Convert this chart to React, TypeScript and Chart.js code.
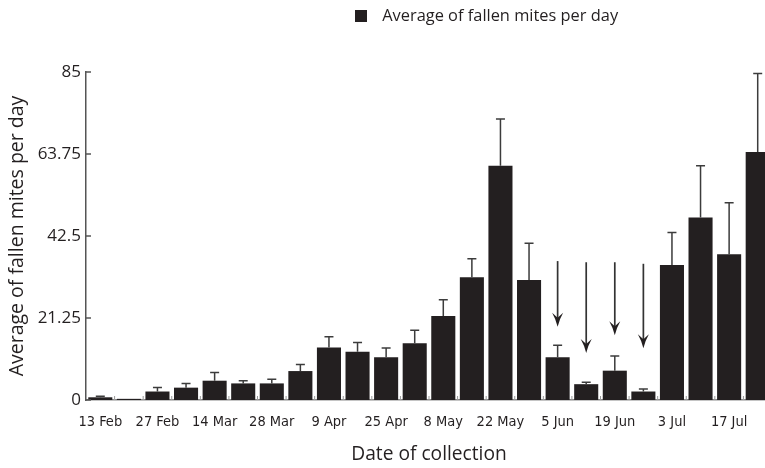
import React, { useEffect, useRef } from 'react';
import { Chart, registerables } from 'chart.js';

Chart.register(...registerables);

// Collection dates (every other collection is labelled on the axis)
const categories = [
  '13 Feb', '', '27 Feb', '', '14 Mar', '', '28 Mar', '', '9 Apr', '', '25 Apr', '',
  '8 May', '', '22 May', '', '5 Jun', '', '19 Jun', '', '3 Jul', '', '17 Jul', '',
];

// Average of fallen mites per day
const meanValues = [
  0.7, 0.3, 2.2, 3.2, 5.0, 4.3, 4.3, 7.5, 13.6, 12.5, 11.1, 14.7,
  21.8, 31.8, 60.7, 31.1, 11.1, 4.1, 7.6, 2.2, 35.0, 47.3, 37.8, 64.3,
];

// Upper error (standard error) above each bar
const errValues = [
  0.3, 0, 1.05, 1.1, 2.1, 0.7, 1.1, 1.7, 2.8, 2.4, 2.4, 3.4,
  4.2, 4.8, 12.1, 9.5, 3.1, 0.5, 3.8, 0.65, 8.4, 13.4, 13.3, 20.3,
];

// Y axis ticks
const yTicks = [0, 21.25, 42.5, 63.75, 85];

// Treatment arrows: bar index, start value, tip value
const arrowBars = [16, 17, 18, 19];
const arrowFrom = [36.0, 35.7, 35.7, 35.3];
const arrowTo = [19.0, 12.2, 16.8, 13.4];

const seriesLabel = 'Average of fallen mites per day';
const INK = '#231f20';

export default function App() {
  const canvasRef = useRef<HTMLCanvasElement | null>(null);

  useEffect(() => {
    if (!canvasRef.current) return;

    const legendSwatch = document.createElement('canvas');
    legendSwatch.width = 19;
    legendSwatch.height = 12;
    const sctx = legendSwatch.getContext('2d');
    if (sctx) {
      sctx.fillStyle = INK;
      sctx.fillRect(0, 0, 12, 12);
    }

    const overlay = {
      id: 'overlay',
      afterInit(chart: any) {
        const legend = chart.legend;
        if (legend && !legend.__patched) {
          const origFit = legend.fit.bind(legend);
          legend.fit = () => {
            origFit();
            legend.height = 64;
          };
          legend.__patched = true;
        }
      },
      afterLayout(chart: any) {
        if (chart.legend) chart.legend.left = 347;
      },
      afterDatasetsDraw(chart: any) {
        const { ctx, chartArea } = chart;
        const x = chart.scales.x;
        const y = chart.scales.y;
        ctx.save();

        // error bars
        ctx.strokeStyle = '#3c3c3c';
        ctx.lineWidth = 1.5;
        meanValues.forEach((v, i) => {
          const e = errValues[i];
          if (!e) return;
          const px = x.getPixelForValue(i);
          const y0 = y.getPixelForValue(v);
          const y1 = y.getPixelForValue(v + e);
          ctx.beginPath();
          ctx.moveTo(px, y0);
          ctx.lineTo(px, y1);
          ctx.moveTo(px - 4.5, y1);
          ctx.lineTo(px + 4.5, y1);
          ctx.stroke();
        });

        // inward y ticks
        ctx.strokeStyle = '#555';
        ctx.lineWidth = 1.5;
        y.ticks.forEach((t: any) => {
          const py = y.getPixelForValue(t.value);
          ctx.beginPath();
          ctx.moveTo(chartArea.left, py);
          ctx.lineTo(chartArea.left + 5, py);
          ctx.stroke();
        });

        // small x ticks between bars
        ctx.strokeStyle = '#999';
        ctx.lineWidth = 1;
        for (let i = 1; i < categories.length; i++) {
          const bx = (x.getPixelForValue(i - 1) + x.getPixelForValue(i)) / 2;
          ctx.beginPath();
          ctx.moveTo(bx, chartArea.bottom);
          ctx.lineTo(bx, chartArea.bottom - 4);
          ctx.stroke();
        }

        // arrows
        arrowBars.forEach((b, k) => {
          const px = x.getPixelForValue(b);
          const yTop = y.getPixelForValue(arrowFrom[k]);
          const yTip = y.getPixelForValue(arrowTo[k]);
          ctx.strokeStyle = '#333';
          ctx.lineWidth = 1.7;
          ctx.beginPath();
          ctx.moveTo(px, yTop);
          ctx.lineTo(px, yTip - 8);
          ctx.stroke();
          ctx.fillStyle = INK;
          ctx.beginPath();
          ctx.moveTo(px, yTip);
          ctx.quadraticCurveTo(px - 2, yTip - 8, px - 5.5, yTip - 14);
          ctx.lineTo(px, yTip - 9);
          ctx.lineTo(px + 5.5, yTip - 14);
          ctx.quadraticCurveTo(px + 2, yTip - 8, px, yTip);
          ctx.closePath();
          ctx.fill();
        });

        ctx.restore();
      },
    };

    const chart = new Chart(canvasRef.current, {
      type: 'bar',
      data: {
        labels: categories,
        datasets: [
          {
            label: seriesLabel,
            data: meanValues,
            backgroundColor: INK,
            borderWidth: 0,
            barPercentage: 0.842,
            categoryPercentage: 1,
          },
        ],
      },
      options: {
        animation: false,
        responsive: true,
        maintainAspectRatio: false,
        layout: { padding: 0 },
        plugins: {
          tooltip: { enabled: false },
          legend: {
            display: true,
            position: 'top',
            align: 'start',
            labels: {
              usePointStyle: true,
              pointStyle: legendSwatch as any,
              pointStyleWidth: 19,
              boxHeight: 12,
              padding: 0,
              color: INK,
              font: { family: "'Open Sans', sans-serif", size: 16.4 },
            },
          },
        },
        scales: {
          x: {
            type: 'category',
            offset: true,
            grid: { display: false, drawTicks: false },
            border: { display: true, color: '#8a8a8a', width: 1.5 },
            ticks: {
              autoSkip: false,
              maxRotation: 0,
              minRotation: 0,
              padding: 14,
              color: INK,
              font: { family: "'DejaVu Sans Condensed', sans-serif", size: 14.5 },
            },
            title: {
              display: true,
              text: 'Date of collection',
              color: INK,
              font: { family: "'Open Sans', sans-serif", size: 19.2 },
              padding: { top: 0, bottom: 2 },
            },
            afterFit(scale: any) {
              scale.height = 68;
            },
          },
          y: {
            min: 0,
            max: 85,
            grid: { display: false, drawTicks: false },
            border: { display: true, color: '#555', width: 1.5 },
            afterBuildTicks(scale: any) {
              scale.ticks = yTicks.map((v) => ({ value: v }));
            },
            ticks: {
              padding: 5,
              color: INK,
              font: { family: "'Open Sans', sans-serif", size: 17 },
              callback: (v: any) => String(v),
            },
            title: {
              display: true,
              text: 'Average of fallen mites per day',
              color: INK,
              font: { family: "'Open Sans', sans-serif", size: 19.5, lineHeight: 1 },
              padding: { top: 0, bottom: 0 },
            },
            afterFit(scale: any) {
              scale.width = 78;
            },
          },
        },
      },
      plugins: [overlay as any],
    });

    return () => {
      chart.destroy();
    };
  }, []);

  return (
    <div style={{ position: 'absolute', left: 8, top: 8, width: 757, height: 460, overflow: 'hidden' }}>
      <div style={{ position: 'relative', width: 764, height: 460 }}>
        <canvas ref={canvasRef} />
      </div>
    </div>
  );
}
